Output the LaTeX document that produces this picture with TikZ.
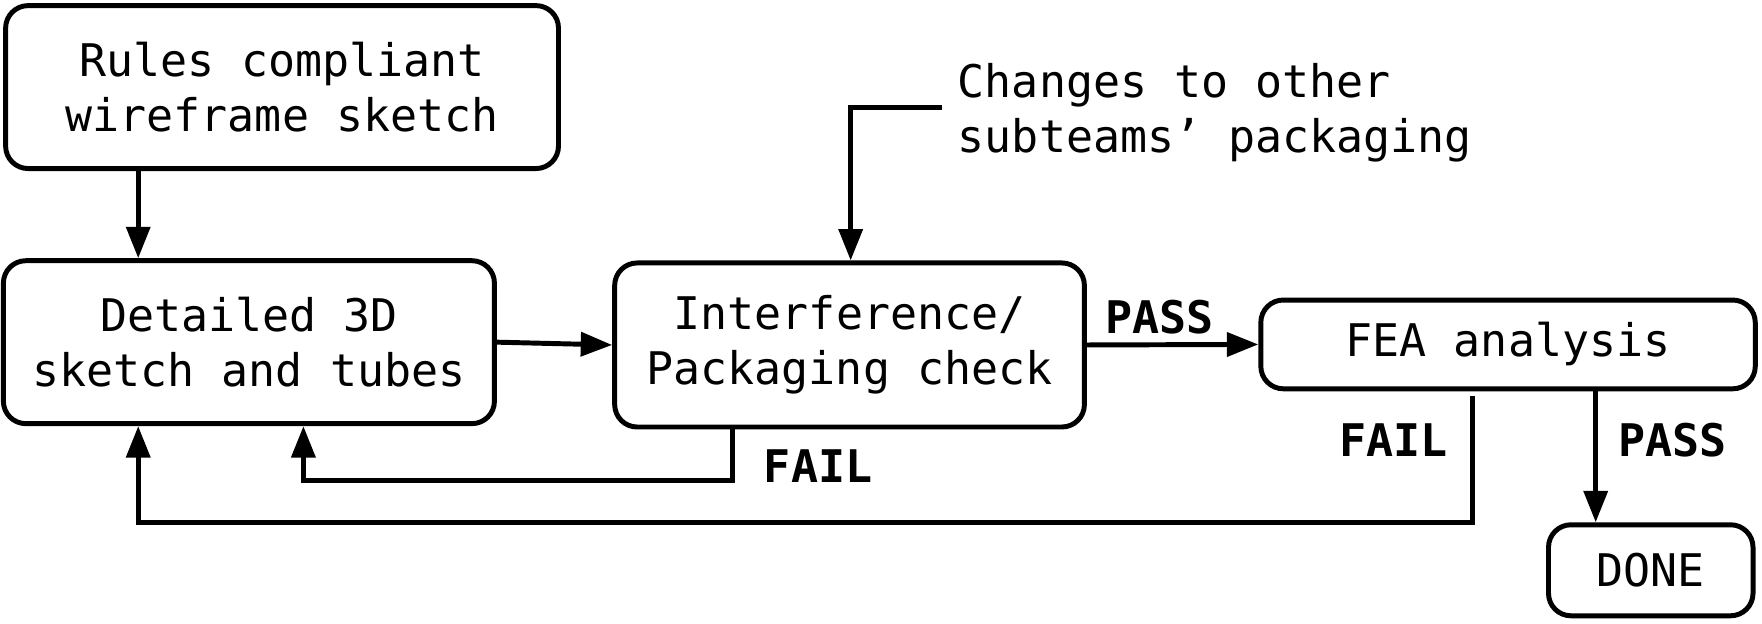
\documentclass[tikz,border=0pt]{standalone}
\usepackage{fontspec}
\setmonofont{DejaVu Sans Mono}
\usetikzlibrary{arrows.meta, positioning, calc}

\begin{document}
\begin{tikzpicture}[
    x=0.5pt, y=-0.5pt,
    box/.style={
        rectangle, rounded corners=10pt,
        draw=black, line width=2.2pt,
        align=center, inner sep=0pt,
        font=\fontsize{20pt}{24.5pt}\selectfont\ttfamily},
    lbl/.style={inner sep=0pt, font=\fontsize{20pt}{24pt}\selectfont\ttfamily\bfseries},
    arr/.style={-{Triangle[length=14pt, width=10.5pt]}, line width=2.2pt, color=black}]

\useasboundingbox (0,0) rectangle (1568,555);

\node[box, minimum width=246pt, minimum height=72.5pt] (rules)  at (251,77.5)  {Rules compliant\\wireframe sketch};
\node[box, minimum width=218.5pt, minimum height=72.5pt] (detail) at (221.5,304.5) {Detailed 3D\\sketch and tubes};
\node[box, minimum width=209pt, minimum height=73pt] (interf) at (756,307)    {Interference/\\Packaging check};
\node[box, minimum width=220pt, minimum height=39.5pt] (fea)    at (1342,306.5) {FEA analysis};
\node[box, minimum width=91pt, minimum height=40.5pt] (done)   at (1469,507.5) {DONE};
\node[anchor=west, inner sep=0pt, xshift=7pt, align=left,
      font=\fontsize{20pt}{24.5pt}\selectfont\ttfamily] (chg) at (838,100)
      {Changes to other\\subteams’ packaging};
\coordinate (chgin) at (838,96);

% Main flow
\draw[arr] ($(rules.south)+(-128,0)$) -- ($(detail.north)+(-98.5,0)$);
\draw[arr] (detail.east) -- (interf.west);
\draw[arr] (chgin) -| ($(interf.north)+(1,0)$);
\draw[arr] (interf.east) -- (fea.west);
\draw[arr] ($(fea.south)+(78,0)$) -- ($(done.north)+(-49,0)$);

% Feedback loops
\draw[arr] ($(interf.south)+(-104,0)$) -- ++(0,45) -| ($(detail.south)+(48.5,0)$);
\draw[arr] ($(fea.south)+(-32,4)$) -- ++(0,113) -| ($(detail.south)+(-98.5,0)$);

\node[lbl] (pass1) at (1032,282) {PASS};
\node[lbl] (fail1) at (728,415)  {FAIL};
\node[lbl] (fail2) at (1240,392) {FAIL};
\node[lbl] (pass2) at (1488,392) {PASS};

\end{tikzpicture}
\end{document}
